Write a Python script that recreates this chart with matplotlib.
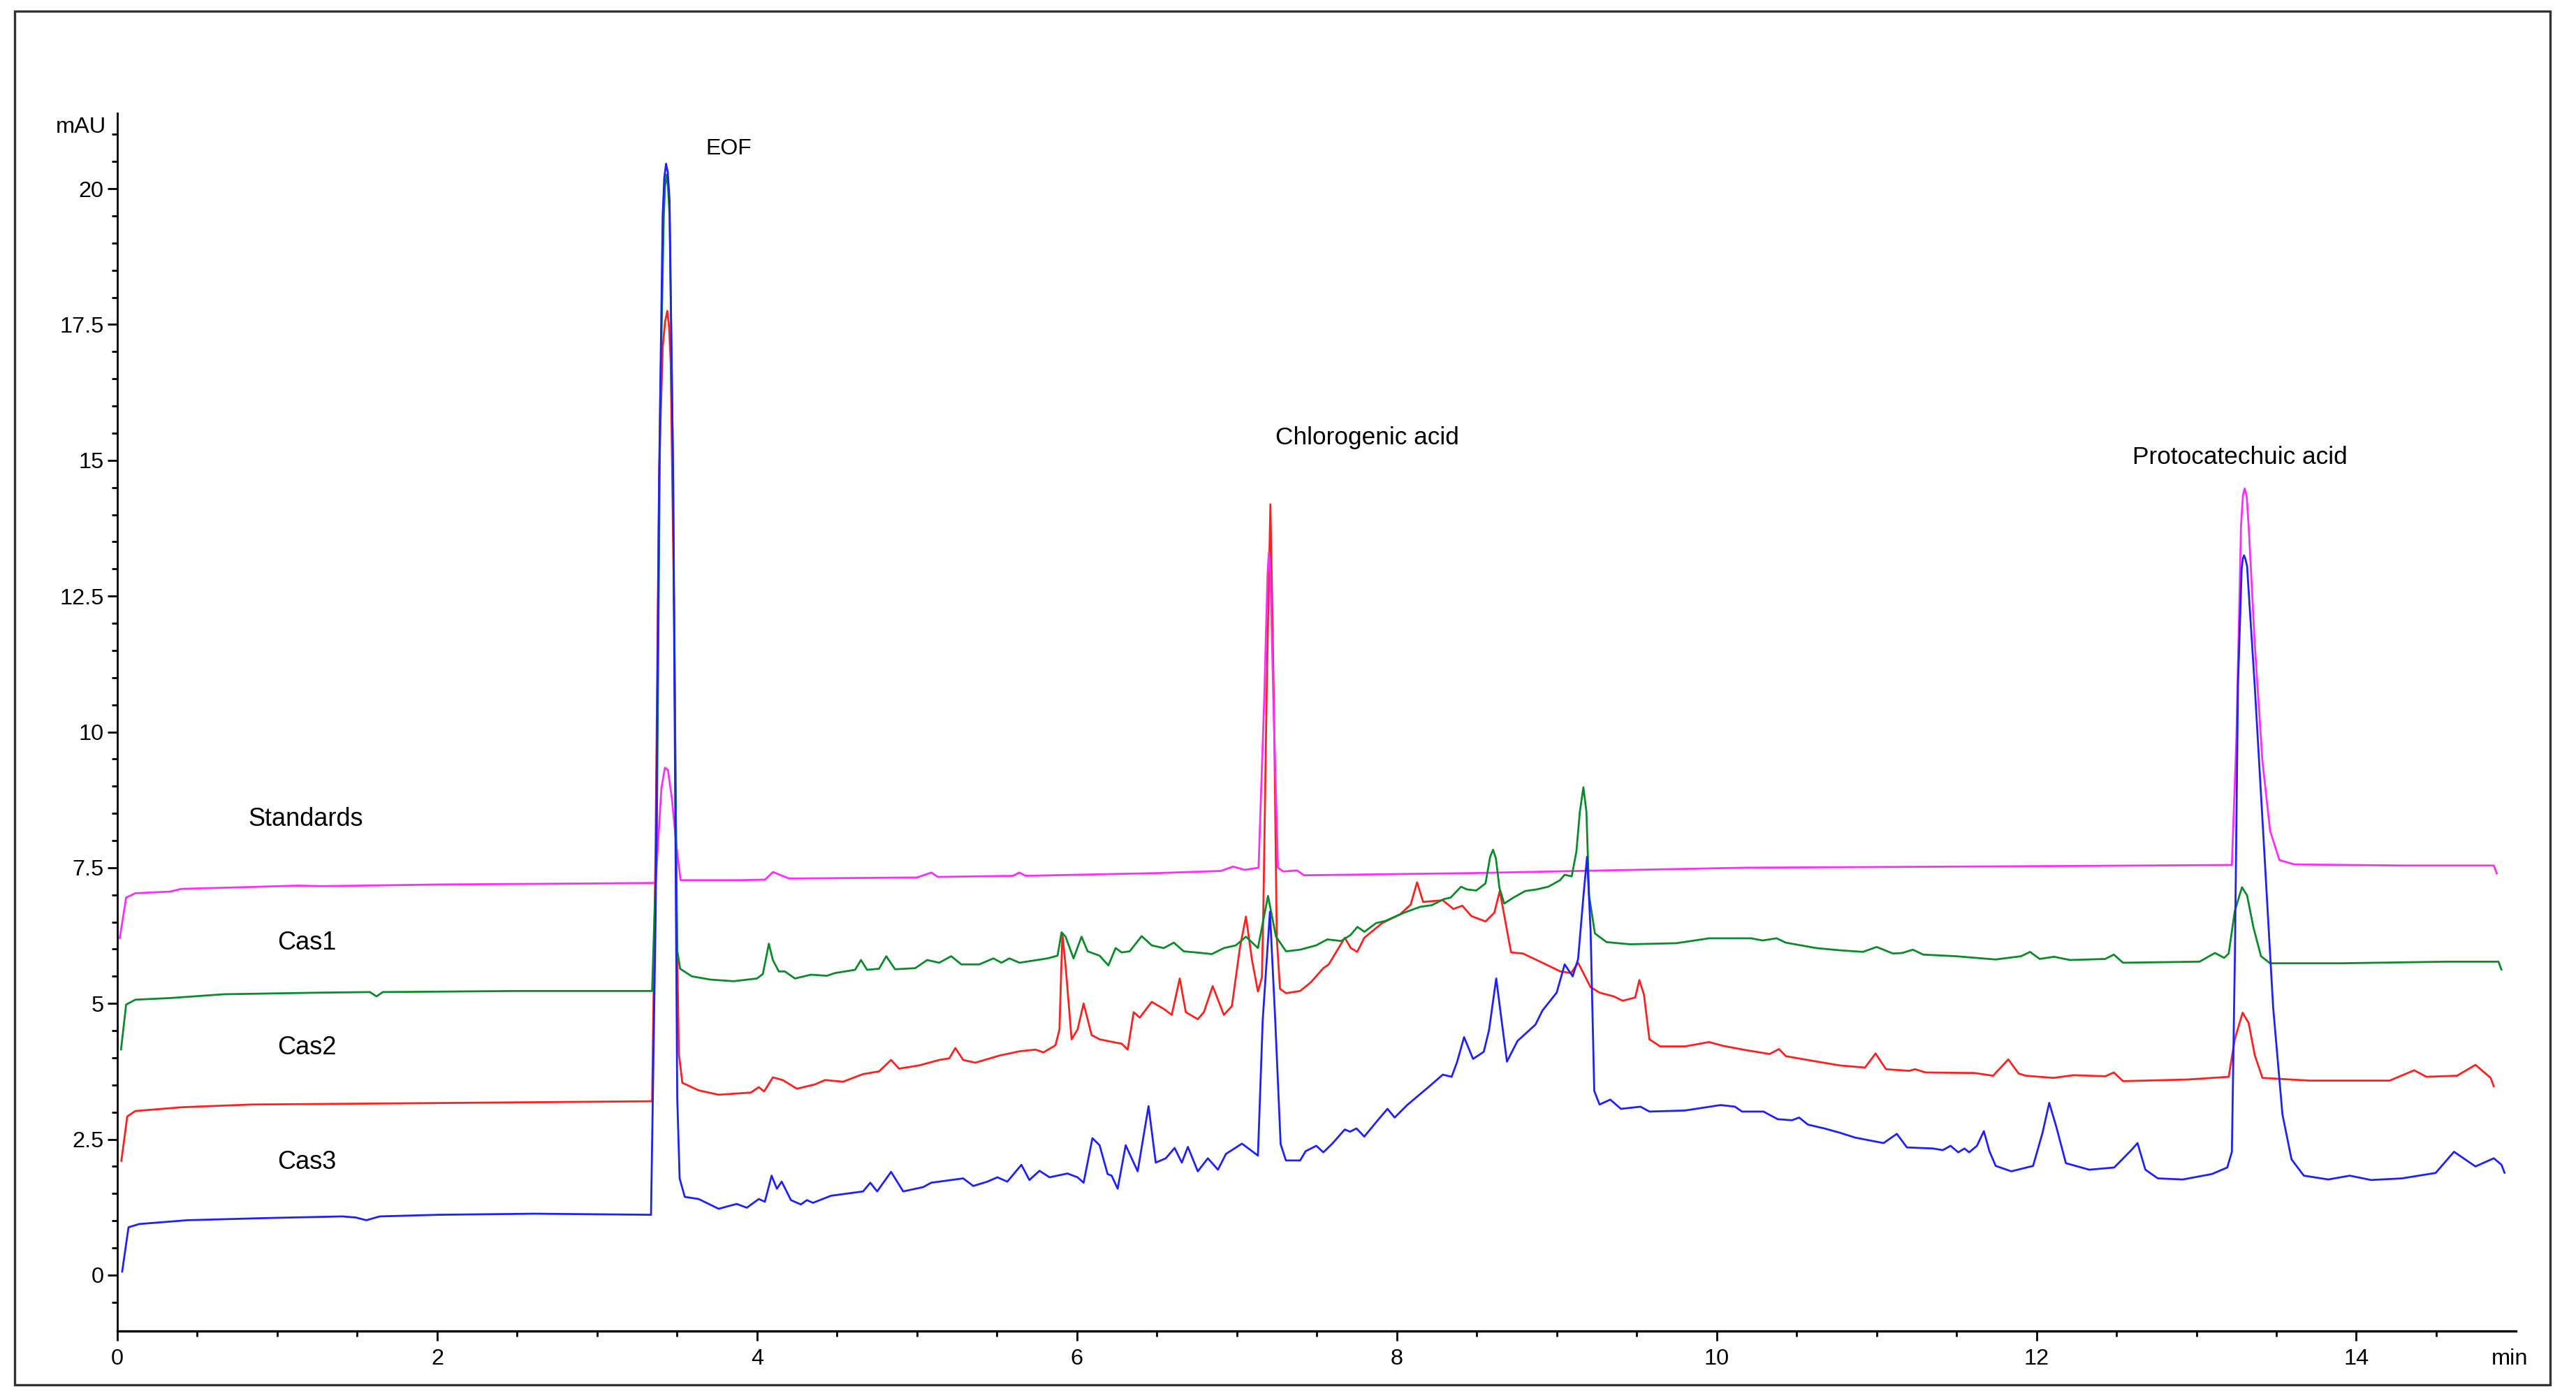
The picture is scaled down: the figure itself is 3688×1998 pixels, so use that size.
import numpy as np
import matplotlib
matplotlib.use("Agg")
import matplotlib.pyplot as plt
from matplotlib.patches import Rectangle

plt.rcParams['font.family'] = ['Liberation Sans', 'DejaVu Sans']

# --- electropherogram traces (time in min, signal in mAU) ---
std_t = [0.015, 0.055, 0.113, 0.331, 0.40, 0.78, 1.13, 1.28, 2.0, 3.0,
         3.366, 3.402, 3.424, 3.443, 3.468, 3.497, 3.522,
         3.9, 4.05, 4.10, 4.2, 5.0, 5.09, 5.13, 5.6, 5.64, 5.68,
         6.5, 6.9, 6.976, 7.05, 7.136,
         7.172, 7.192, 7.20, 7.21, 7.228, 7.257, 7.29, 7.376, 7.42,
         8.466, 9.134, 10.19, 12.13,
         13.222, 13.25, 13.279, 13.291, 13.302, 13.314, 13.327, 13.365, 13.413, 13.461,
         13.519, 13.614,
         14.285, 14.86, 14.879]
std_v = [6.20, 6.95, 7.03, 7.06, 7.11, 7.14, 7.17, 7.16, 7.19, 7.21,
         7.22, 8.96, 9.34, 9.30, 8.76, 7.87, 7.27,
         7.27, 7.28, 7.42, 7.30, 7.32, 7.41, 7.33, 7.35, 7.41, 7.35,
         7.40, 7.44, 7.52, 7.46, 7.50,
         10.66, 12.9, 13.30, 12.9, 10.66, 7.50, 7.43, 7.45, 7.36,
         7.40, 7.44, 7.50, 7.53,
         7.55, 9.85, 13.79, 14.35, 14.48, 14.35, 13.79, 11.62, 9.46, 8.18,
         7.64, 7.56,
         7.54, 7.54, 7.39]

cas1_t = [0.023, 0.055, 0.113, 0.331, 0.666, 1.278, 1.58, 1.62, 1.66, 2.5, 3.344,
          3.373, 3.395, 3.417, 3.425, 3.434, 3.443, 3.453, 3.475, 3.490, 3.501, 3.519,
          3.592, 3.708,
          3.854, 3.999, 4.036, 4.074, 4.099, 4.136, 4.174, 4.237, 4.337, 4.437, 4.487,
          4.613, 4.650, 4.688, 4.763, 4.808, 4.863, 4.989, 5.064, 5.139, 5.214, 5.277,
          5.39, 5.478, 5.528, 5.578, 5.641, 5.816, 5.879, 5.904, 5.929, 5.979, 6.029,
          6.067, 6.142, 6.197, 6.242, 6.28, 6.33, 6.405, 6.468, 6.543, 6.606, 6.668,
          6.744, 6.844, 6.919, 6.994, 7.057, 7.132, 7.195, 7.245, 7.308, 7.395, 7.496,
          7.566, 7.652, 7.711, 7.754, 7.798, 7.871, 7.929, 8.045, 8.147, 8.22, 8.293,
          8.337, 8.402, 8.439, 8.497, 8.555, 8.584, 8.602, 8.62, 8.642, 8.672, 8.73,
          8.803, 8.875, 8.948, 9.021, 9.05, 9.094, 9.123, 9.145, 9.167, 9.186, 9.203,
          9.239, 9.312, 9.458, 9.749, 9.953, 10.215, 10.288, 10.375, 10.433, 10.623,
          10.768, 10.914, 11.001, 11.103, 11.161, 11.227, 11.292, 11.496, 11.744,
          11.904, 11.96, 12.02, 12.11, 12.21, 12.43, 12.484, 12.541, 13.02, 13.116,
          13.174, 13.202, 13.24, 13.285, 13.317, 13.356, 13.404, 13.461, 13.90,
          14.573, 14.889, 14.908]
cas1_v = [4.15, 4.98, 5.07, 5.10, 5.17, 5.20, 5.21, 5.13, 5.21, 5.23, 5.23,
          8.01, 16.13, 19.51, 20.05, 20.26, 20.05, 19.51, 14.78, 9.36, 5.98, 5.64,
          5.50, 5.44,
          5.41, 5.46, 5.54, 6.10, 5.80, 5.59, 5.59, 5.46, 5.53, 5.51, 5.56,
          5.62, 5.80, 5.62, 5.64, 5.87, 5.63, 5.65, 5.80, 5.75, 5.87, 5.72,
          5.72, 5.83, 5.75, 5.83, 5.75, 5.83, 5.88, 6.31, 6.23, 5.83, 6.23,
          5.96, 5.88, 5.70, 6.02, 5.94, 5.96, 6.24, 6.07, 6.02, 6.12, 5.96,
          5.94, 5.91, 6.02, 6.07, 6.23, 6.02, 6.98, 6.23, 5.96, 5.99, 6.07,
          6.18, 6.15, 6.26, 6.41, 6.32, 6.48, 6.52, 6.67, 6.78, 6.81, 6.92,
          6.95, 7.15, 7.10, 7.08, 7.21, 7.70, 7.83, 7.67, 7.13, 6.84, 6.95,
          7.07, 7.10, 7.15, 7.27, 7.37, 7.34, 7.79, 8.53, 8.98, 8.53, 6.98,
          6.29, 6.13, 6.09, 6.11, 6.20, 6.20, 6.16, 6.20, 6.12, 6.02,
          5.98, 5.95, 6.04, 5.92, 5.93, 5.99, 5.90, 5.87, 5.81,
          5.87, 5.95, 5.82, 5.86, 5.80, 5.82, 5.90, 5.75, 5.77, 5.93,
          5.84, 5.92, 6.70, 7.14, 6.99, 6.41, 5.87, 5.74, 5.74,
          5.77, 5.77, 5.62]

cas2_t = [0.025, 0.062, 0.113, 0.404, 0.84, 1.278, 2.5, 3.344,
          3.366, 3.388, 3.41, 3.425, 3.439, 3.45, 3.46, 3.482, 3.497, 3.511, 3.533, 3.635,
          3.76, 3.961, 4.011, 4.044, 4.099, 4.161, 4.249, 4.362, 4.425, 4.538,
          4.663, 4.763, 4.838, 4.888, 5.014, 5.139, 5.202, 5.24, 5.289, 5.365,
          5.515, 5.641, 5.741, 5.791, 5.866, 5.891, 5.909, 5.929, 5.967, 6.004,
          6.042, 6.092, 6.142, 6.242, 6.28, 6.318, 6.355, 6.393, 6.468, 6.543,
          6.593, 6.643, 6.681, 6.756, 6.794, 6.849, 6.919, 6.969, 7.019, 7.057,
          7.095, 7.132, 7.157, 7.166, 7.188, 7.21, 7.232, 7.25, 7.27, 7.308,
          7.396, 7.463, 7.541, 7.575, 7.675, 7.713, 7.753, 7.797, 7.909, 8.02,
          8.087, 8.127, 8.165, 8.288, 8.354, 8.41, 8.466, 8.555, 8.61, 8.644,
          8.689, 8.715, 8.789, 8.911, 9.023, 9.09, 9.134, 9.212, 9.268, 9.357,
          9.413, 9.491, 9.517, 9.546, 9.58, 9.647, 9.803, 9.953, 10.04, 10.186,
          10.331, 10.39, 10.433, 10.55, 10.768, 10.928, 10.994, 11.059, 11.205,
          11.241, 11.307, 11.613, 11.729, 11.824, 11.889, 11.933, 12.106, 12.232,
          12.43, 12.484, 12.541, 12.944, 13.202, 13.24, 13.289, 13.327, 13.365,
          13.413, 13.71, 14.208, 14.362, 14.438, 14.63, 14.745, 14.84, 14.86]
cas2_v = [2.10, 2.92, 3.02, 3.09, 3.14, 3.15, 3.18, 3.20,
          8.01, 14.78, 17.08, 17.55, 17.75, 17.45, 16.81, 12.07, 6.65, 4.08, 3.54, 3.40,
          3.32, 3.36, 3.46, 3.38, 3.64, 3.59, 3.43, 3.51, 3.59, 3.56,
          3.70, 3.75, 3.96, 3.80, 3.86, 3.96, 3.99, 4.18, 3.96, 3.91,
          4.04, 4.12, 4.15, 4.10, 4.23, 4.52, 6.28, 5.70, 4.34, 4.52,
          5.00, 4.42, 4.34, 4.28, 4.26, 4.15, 4.84, 4.74, 5.03, 4.90,
          4.79, 5.46, 4.84, 4.71, 4.84, 5.32, 4.79, 4.95, 6.02, 6.60,
          5.80, 5.22, 5.48, 6.75, 11.0, 14.19, 10.5, 6.2, 5.27, 5.19,
          5.23, 5.39, 5.65, 5.72, 6.21, 6.02, 5.95, 6.21, 6.48, 6.64,
          6.82, 7.23, 6.87, 6.90, 6.74, 6.80, 6.61, 6.51, 6.67, 7.07,
          6.35, 5.94, 5.92, 5.75, 5.59, 5.56, 5.75, 5.30, 5.20, 5.13,
          5.05, 5.11, 5.43, 5.16, 4.34, 4.21, 4.21, 4.29, 4.22, 4.14,
          4.07, 4.16, 4.03, 3.97, 3.86, 3.82, 4.08, 3.79, 3.76,
          3.79, 3.73, 3.72, 3.67, 3.97, 3.71, 3.67, 3.63, 3.68,
          3.66, 3.73, 3.57, 3.60, 3.65, 4.34, 4.83, 4.64, 4.05,
          3.63, 3.58, 3.58, 3.77, 3.65, 3.67, 3.87, 3.63, 3.47]

cas3_t = [0.03, 0.07, 0.137, 0.438, 0.939, 1.407, 1.49, 1.557, 1.641, 2.008, 2.61, 3.337,
          3.366, 3.388, 3.41, 3.42, 3.431, 3.442, 3.453, 3.475, 3.49, 3.501, 3.516, 3.548,
          3.635,
          3.76, 3.873, 3.936, 4.011, 4.049, 4.091, 4.124, 4.154, 4.212, 4.274, 4.312,
          4.35, 4.462, 4.663, 4.708, 4.751, 4.838, 4.914, 5.039, 5.089, 5.214, 5.289,
          5.352, 5.44, 5.503, 5.565, 5.653, 5.703, 5.766, 5.829, 5.941, 6.004, 6.042,
          6.097, 6.142, 6.192, 6.217, 6.255, 6.305, 6.38, 6.448, 6.493, 6.556, 6.611,
          6.656, 6.694, 6.756, 6.819, 6.882, 6.932, 7.032, 7.132, 7.162, 7.207, 7.24,
          7.274, 7.307, 7.396, 7.43, 7.497, 7.541, 7.597, 7.675, 7.708, 7.748, 7.797,
          7.887, 7.942, 7.987, 8.065, 8.198, 8.288, 8.343, 8.377, 8.421, 8.477, 8.544,
          8.577, 8.622, 8.655, 8.689, 8.755, 8.867, 8.911, 9.0, 9.05, 9.1, 9.134,
          9.168, 9.19, 9.212, 9.235, 9.268, 9.335, 9.402, 9.524, 9.58, 9.803, 10.025,
          10.115, 10.159, 10.293, 10.382, 10.471, 10.516, 10.571, 10.673, 10.771,
          10.868, 11.044, 11.127, 11.19, 11.355, 11.414, 11.463, 11.511, 11.55,
          11.579, 11.628, 11.671, 11.706, 11.745, 11.843, 11.979, 12.038, 12.08,
          12.125, 12.184, 12.33, 12.486, 12.593, 12.632, 12.681, 12.759, 12.915,
          13.097, 13.193, 13.222, 13.241, 13.26, 13.283, 13.29, 13.298, 13.307, 13.317,
          13.365,
          13.423, 13.48, 13.538, 13.595, 13.672, 13.825, 13.959, 14.093, 14.285,
          14.496, 14.611, 14.745, 14.86, 14.908, 14.927]
cas3_v = [0.06, 0.88, 0.94, 1.01, 1.05, 1.08, 1.06, 1.01, 1.08, 1.11, 1.13, 1.11,
          6.65, 14.78, 19.51, 20.2, 20.46, 20.3, 19.78, 14.78, 8.01, 3.27, 1.78, 1.44,
          1.40,
          1.22, 1.31, 1.24, 1.40, 1.35, 1.83, 1.59, 1.72, 1.38, 1.30, 1.38,
          1.33, 1.46, 1.54, 1.70, 1.54, 1.90, 1.54, 1.62, 1.70, 1.75, 1.78,
          1.64, 1.72, 1.80, 1.72, 2.03, 1.75, 1.92, 1.80, 1.87, 1.80, 1.70,
          2.52, 2.39, 1.86, 1.83, 1.59, 2.39, 1.91, 3.11, 2.07, 2.15, 2.34,
          2.07, 2.36, 1.91, 2.15, 1.94, 2.23, 2.42, 2.20, 4.70, 6.69, 4.70,
          2.41, 2.11, 2.11, 2.28, 2.38, 2.26, 2.42, 2.68, 2.64, 2.70, 2.55,
          2.87, 3.06, 2.90, 3.13, 3.46, 3.69, 3.65, 3.92, 4.38, 3.98, 4.11,
          4.51, 5.46, 4.70, 3.93, 4.31, 4.61, 4.87, 5.20, 5.72, 5.50, 5.82,
          7.00, 7.70, 6.35, 3.39, 3.14, 3.23, 3.06, 3.10, 3.01, 3.03, 3.13,
          3.10, 3.01, 3.01, 2.87, 2.85, 2.90, 2.77, 2.70, 2.62,
          2.53, 2.43, 2.60, 2.35, 2.33, 2.30, 2.38, 2.26, 2.33,
          2.26, 2.38, 2.65, 2.28, 2.01, 1.91, 2.01, 2.62, 3.17,
          2.72, 2.06, 1.94, 1.98, 2.30, 2.43, 1.94, 1.78, 1.76,
          1.86, 1.98, 2.27, 5.92, 10.84, 13.00, 13.18, 13.25, 13.18, 13.05,
          10.84,
          7.88, 4.93, 2.96, 2.13, 1.83, 1.76, 1.83, 1.75, 1.78,
          1.88, 2.27, 2.00, 2.15, 2.03, 1.88]

y_ticks = [0, 2.5, 5, 7.5, 10, 12.5, 15, 17.5, 20]
y_labels = ["0", "2.5", "5", "7.5", "10", "12.5", "15", "17.5", "20"]
x_ticks = [0, 2, 4, 6, 8, 10, 12, 14]

trace_labels = [("Standards", 0.82, 8.39), ("Cas1", 1.0, 6.11),
                ("Cas2", 1.0, 4.19), ("Cas3", 1.0, 2.08)]
peak_labels = [("EOF", 3.68, 20.73), ("Chlorogenic acid", 7.24, 15.42),
               ("Protocatechuic acid", 12.6, 15.05)]

fig = plt.figure(figsize=(18.44, 9.99), dpi=200)
ax = fig.add_axes([0.04555, 0.04655, 0.93125, 0.87235])

lw = 1.0
style = dict(lw=lw, solid_joinstyle="round", solid_capstyle="round")
ax.plot(cas2_t, cas2_v, color="#ff2020", **style)
ax.plot(std_t, std_v, color="#ff2dff", **style)
ax.plot(cas1_t, cas1_v, color="#0a8a2a", **style)
ax.plot(cas3_t, cas3_v, color="#2020ff", **style)

ax.set_xlim(0, 15)
ax.set_ylim(-1.03, 21.39)

for s in ["top", "right"]:
    ax.spines[s].set_visible(False)
ax.spines["left"].set_linewidth(1.0)
ax.spines["bottom"].set_linewidth(1.2)

ax.set_xticks(x_ticks)
ax.set_xticks(np.arange(0.5, 14.6, 0.5), minor=True)
ax.set_yticks(y_ticks)
ax.set_yticklabels(y_labels)
ax.set_yticks(np.arange(-0.5, 21.1, 0.5), minor=True)
ax.tick_params(which="major", length=5, width=1.0, labelsize=11.7, pad=2)
ax.tick_params(which="minor", length=3, width=1.0)
ax.tick_params(axis="x", which="major", pad=4)

ax.text(-0.068, 21.13, "mAU", ha="right", va="center", fontsize=11.7, clip_on=False)
ax.text(14.96, -1.54, "min", ha="center", va="center", fontsize=11.7, clip_on=False)

for name, tx, ty in trace_labels:
    ax.text(tx, ty, name, ha="left", va="center", fontsize=13)
for name, tx, ty in peak_labels:
    size = 11.5 if name == "EOF" else 12.7
    ax.text(tx, ty, name, ha="left", va="center", fontsize=size)

fig.add_artist(Rectangle((0.0057, 0.008), 0.9843, 0.984, transform=fig.transFigure,
                         fill=False, lw=1.2, ec="#333333"))

fig.savefig("out.png", dpi=200)
